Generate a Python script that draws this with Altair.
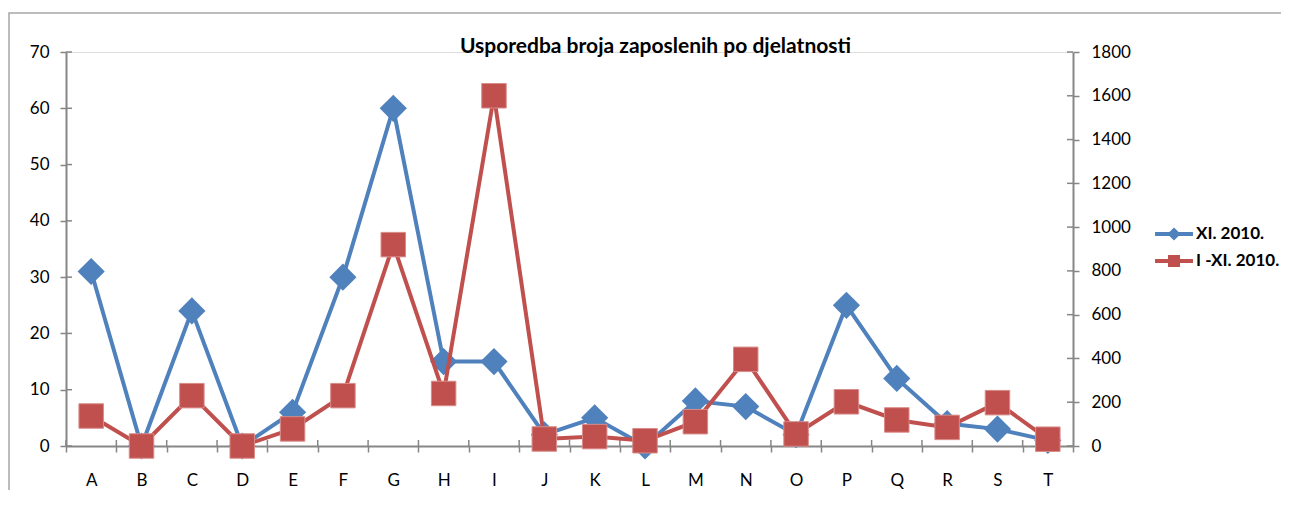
import altair as alt
import pandas as pd

categories = list("ABCDEFGHIJKLMNOPQRST")
xi_2010 = [31, 0, 24, 0, 6, 30, 60, 15, 15, 2, 5, 0, 8, 7, 2, 25, 12, 4, 3, 1]
i_xi_2010 = [137, 0, 230, 0, 78, 230, 920, 240, 1600, 32, 43, 24, 111, 396, 55, 202, 119, 85, 198, 31]
series_names = ["XI. 2010.", "I -XI. 2010."]
left_ticks = [0, 10, 20, 30, 40, 50, 60, 70]
right_ticks = [0, 200, 400, 600, 800, 1000, 1200, 1400, 1600, 1800]

BLUE = "#4F81BD"
RED = "#C0504D"
GRAY = "#868686"
FONT = "Lato"

df = pd.DataFrame({"cat": categories, "xi": xi_2010, "ixi": i_xi_2010})
legend_df = pd.DataFrame({"series": series_names})
frame_df = pd.DataFrame({"frame": [0]})
left_tick_df = pd.DataFrame({"v": left_ticks})
right_tick_df = pd.DataFrame({"w": right_ticks})
cat_tick_df = pd.DataFrame({"cat": categories})

x_axis = alt.Axis(
    title=None, labelAngle=0, tickBand="extent", domainColor=GRAY, domainWidth=2,
    tickColor=GRAY, tickWidth=1.5, tickSize=6, labelPadding=20, labelFontSize=17,
    labelFont=FONT, labelColor="#000000", grid=False,
)
x_scale = alt.Scale(paddingInner=0, paddingOuter=0)
x_enc = alt.X("cat:N", sort=categories, scale=x_scale, axis=x_axis)
x_edge = alt.X("cat:N", sort=categories, scale=x_scale, axis=x_axis, bandPosition=0)

left_axis = alt.Axis(
    title=None, values=left_ticks, orient="left", domainColor=GRAY, domainWidth=2,
    tickColor=GRAY, tickWidth=1.5, tickSize=6, labelPadding=11, labelFontSize=17,
    labelFont=FONT, labelColor="#000000", grid=False, format="d",
)
right_axis = alt.Axis(
    title=None, values=right_ticks, orient="right", domainColor=GRAY, domainWidth=2,
    tickColor=GRAY, tickWidth=1.5, tickSize=6, labelPadding=12, labelFontSize=17,
    labelFont=FONT, labelColor="#000000", grid=False, format="d",
)
left_scale = alt.Scale(domain=[0, 70], nice=False)
right_scale = alt.Scale(domain=[0, 1800], nice=False)

frame = alt.Chart(frame_df).mark_rect(fillOpacity=0, stroke="#A6A6A6", strokeWidth=1.5).encode(
    x=alt.value(-57), x2=alt.value(1400), y=alt.value(-39), y2=alt.value(700)
)

# inner halves of the crossing tick marks
left_inner = alt.Chart(left_tick_df).mark_rule(color=GRAY, strokeWidth=1.5).encode(
    y=alt.Y("v:Q", scale=left_scale, axis=left_axis), x=alt.value(0), x2=alt.value(6)
)
x_inner = alt.Chart(cat_tick_df).mark_rule(color=GRAY, strokeWidth=1.5).encode(
    x=x_edge, y=alt.value(388), y2=alt.value(394)
)
right_inner = alt.Chart(right_tick_df).mark_rule(color=GRAY, strokeWidth=1.5).encode(
    y=alt.Y("w:Q", scale=right_scale, axis=right_axis), x=alt.value(1001), x2=alt.value(1007)
)

blue_line = alt.Chart(df).mark_line(color=BLUE, strokeWidth=4).encode(
    x=x_enc, y=alt.Y("xi:Q", scale=left_scale, axis=left_axis)
)
blue_pts = alt.Chart(df).mark_point(
    shape="diamond", filled=True, color=BLUE, size=740, opacity=1
).encode(x=x_enc, y=alt.Y("xi:Q", scale=left_scale, axis=left_axis))

blue_path = ("M-1.58,-0.17H1.58V0.17H-1.58Z "
             "M0,-0.55L0.55,0L0,0.55L-0.55,0Z")
red_path = ("M-1.58,-0.17H1.58V0.17H-1.58Z "
            "M-0.5,-0.5H0.5V0.5H-0.5Z")

leg = alt.Legend(
    title=None, orient="none", legendX=1096, legendY=170, padding=0,
    labelFont=FONT, labelFontSize=17, labelFontWeight="bold", labelColor="#000000",
    labelOffset=10, rowPadding=7, symbolSize=576, symbolStrokeWidth=0,
    labelBaseline="middle", labelLimit=300,
)
legend_layer = alt.Chart(legend_df).mark_point(filled=True, opacity=1).encode(
    color=alt.Color("series:N", scale=alt.Scale(domain=series_names, range=[BLUE, RED]), legend=leg),
    shape=alt.Shape("series:N", scale=alt.Scale(domain=series_names, range=[blue_path, red_path]), legend=leg),
).transform_filter("false")

red_line = alt.Chart(df).mark_line(color=RED, strokeWidth=4).encode(
    x=x_enc, y=alt.Y("ixi:Q", scale=right_scale, axis=right_axis)
)
red_pts = alt.Chart(df).mark_point(
    shape="square", filled=True, color=RED, size=600, opacity=1, stroke="#D98C8A", strokeWidth=1
).encode(x=x_enc, y=alt.Y("ixi:Q", scale=right_scale, axis=right_axis))

blue_layer = alt.layer(frame, left_inner, x_inner, blue_line, blue_pts, legend_layer)
red_layer = alt.layer(right_inner, red_line, red_pts)

chart = alt.layer(blue_layer, red_layer).resolve_scale(y="independent").properties(
    width=1007,
    height=394,
    autosize=alt.AutoSizeParams(type="none"),
    padding={"left": 58, "top": 44, "right": 208, "bottom": 44},
    title=alt.TitleParams(
        "Usporedba broja zaposlenih po djelatnosti",
        font=FONT, fontSize=21, fontWeight="bold", color="#000000",
        anchor="middle", frame="group", baseline="alphabetic", offset=0, dx=86, dy=62,
    ),
).configure_view(stroke=None).configure(background="white")

chart.save("out.html", embed_options={"renderer": "svg", "actions": False})
